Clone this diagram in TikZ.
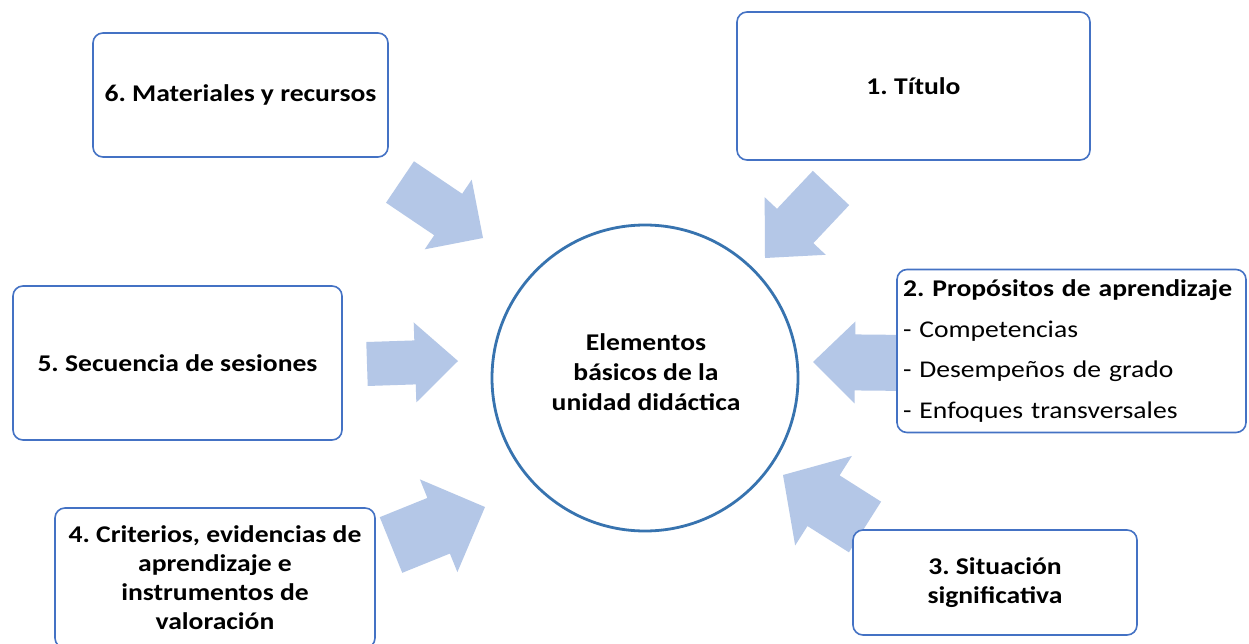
\documentclass[tikz,border=0pt]{standalone}
\usepackage{fontspec}
\setmainfont{Carlito}[FakeStretch=1.15]
\usetikzlibrary{calc}
\definecolor{boxblue}{RGB}{68,114,196}
\definecolor{circblue}{RGB}{55,115,175}
\definecolor{arrowfill}{RGB}{180,199,231}
% #1 tail, #2 tip, #3 half shaft width, #4 half head width, #5 head length
\newcommand\blockarr[5]{%
  \coordinate (#1hb) at ($(#2)!#5pt!(#1)$);
  \fill[arrowfill] ($(#1)!#3pt!90:(#2)$) -- ($(#1hb)!#3pt!90:(#2)$) -- ($(#1hb)!#4pt!90:(#2)$) -- (#2)
    -- ($(#1hb)!#4pt!-90:(#2)$) -- ($(#1hb)!#3pt!-90:(#2)$) -- ($(#1)!#3pt!-90:(#2)$) -- cycle;}
\frenchspacing
\begin{document}
\begin{tikzpicture}[x=1pt,y=-1pt,
  box/.style={draw=boxblue, line width=1.6pt, rounded corners=10pt, fill=white,
    align=center, font=\fontsize{24}{29}\selectfont\bfseries, inner sep=4pt},
  hub/.style={circle, draw=circblue, line width=2.8pt, fill=white,
    minimum size=306pt, inner sep=0pt},
  hubtext/.style={align=center, font=\fontsize{24}{30}\selectfont\bfseries, inner sep=0pt}]
\clip (0,0) rectangle (1249,644);
\fill[white] (0,0) rectangle (1249,644);
% arrow coordinates
\coordinate (a6t) at (400,182); \coordinate (a6p) at (483,238);
\coordinate (a1t) at (831,188); \coordinate (a1p) at (765,258);
\coordinate (a5t) at (367,364); \coordinate (a5p) at (458,361);
\coordinate (a2t) at (910,363); \coordinate (a2p) at (813,362);
\coordinate (a4t) at (391,545); \coordinate (a4p) at (485,507);
\coordinate (a3t) at (865,527); \coordinate (a3p) at (783,475);
\blockarr{a6t}{a6p}{25}{42}{42}
\blockarr{a1t}{a1p}{25}{42}{44}
\blockarr{a5t}{a5p}{22}{40}{43}
\blockarr{a2t}{a2p}{28}{41}{42}
\blockarr{a4t}{a4p}{30}{50}{50}
\blockarr{a3t}{a3p}{30}{53}{48}
% hub
\node[hub] (c) at (645,378) {};
\node[hubtext] (ct) at (646,372) {Elementos\\básicos de la\\unidad didáctica};
% boxes
\node[box, minimum width=295pt, minimum height=124pt] (b6) at (240.5,95) {6. Materiales y recursos};
\node[box, minimum width=353pt, minimum height=148pt] (b1) at (913.5,86) {1. Título};
\node[box, minimum width=349pt, minimum height=163pt, text width=337pt, align=left,
  inner xsep=6pt, font=\fontsize{24}{40.5}\selectfont] (b2) at (1071.5,351)
  {\textbf{2. Propósitos de aprendizaje}\\- Competencias\\- Desempeños de grado\\- Enfoques transversales};
\node[box, minimum width=329pt, minimum height=154pt] (b5) at (177.5,363) {5. Secuencia de sesiones};
\node[box, minimum width=320pt, minimum height=140pt] (b4) at (215,578) {4. Criterios, evidencias de\\aprendizaje e\\instrumentos de\\valoración};
\node[box, minimum width=284pt, minimum height=105pt] (b3) at (995,582.5) {3. Situación\\significativa};
\end{tikzpicture}
\end{document}
